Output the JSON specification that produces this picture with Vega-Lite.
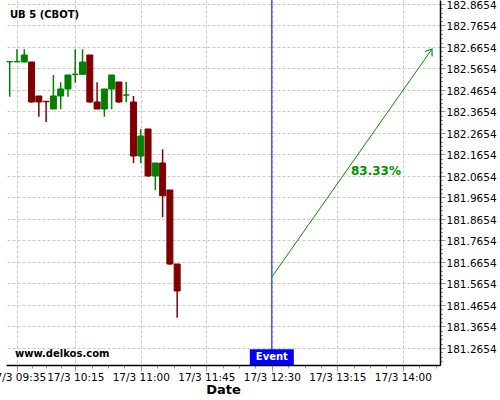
{
  "$schema": "https://vega.github.io/schema/vega-lite/v6.json",
  "width": 434,
  "height": 365,
  "autosize": {"type": "none"},
  "padding": {"left": 6, "top": 0, "right": 60, "bottom": 35},
  "background": "white",
  "config": {
    "view": {"stroke": null},
    "font": "DejaVu Sans",
    "text": {"font": "DejaVu Sans"}
  },
  "datasets": {
    "candles": [
      {"time": "2025-03-17T09:30:00", "open": 182.5970, "high": 182.5970, "low": 182.4342, "close": 182.5970},
      {"time": "2025-03-17T09:35:00", "open": 182.5970, "high": 182.6547, "low": 182.5970, "close": 182.5970},
      {"time": "2025-03-17T09:40:00", "open": 182.5956, "high": 182.6547, "low": 182.5956, "close": 182.6282},
      {"time": "2025-03-17T09:45:00", "open": 182.5956, "high": 182.5956, "low": 182.4064, "close": 182.4096},
      {"time": "2025-03-17T09:50:00", "open": 182.4375, "high": 182.4375, "low": 182.3412, "close": 182.4096},
      {"time": "2025-03-17T09:55:00", "open": 182.4128, "high": 182.4128, "low": 182.3166, "close": 182.4110},
      {"time": "2025-03-17T10:00:00", "open": 182.3770, "high": 182.5352, "low": 182.3770, "close": 182.4375},
      {"time": "2025-03-17T10:05:00", "open": 182.4375, "high": 182.5012, "low": 182.3756, "close": 182.4701},
      {"time": "2025-03-17T10:10:00", "open": 182.4701, "high": 182.5352, "low": 182.4342, "close": 182.5352},
      {"time": "2025-03-17T10:15:00", "open": 182.5384, "high": 182.6547, "low": 182.4994, "close": 182.5384},
      {"time": "2025-03-17T10:20:00", "open": 182.5384, "high": 182.6547, "low": 182.5384, "close": 182.5956},
      {"time": "2025-03-17T10:25:00", "open": 182.6282, "high": 182.6282, "low": 182.4064, "close": 182.4096},
      {"time": "2025-03-17T10:30:00", "open": 182.4096, "high": 182.5012, "low": 182.3770, "close": 182.3770},
      {"time": "2025-03-17T10:35:00", "open": 182.3770, "high": 182.4701, "low": 182.3412, "close": 182.4701},
      {"time": "2025-03-17T10:40:00", "open": 182.4701, "high": 182.5352, "low": 182.3756, "close": 182.5352},
      {"time": "2025-03-17T10:45:00", "open": 182.5026, "high": 182.5026, "low": 182.4064, "close": 182.4096},
      {"time": "2025-03-17T10:50:00", "open": 182.4421, "high": 182.5026, "low": 182.4082, "close": 182.4421},
      {"time": "2025-03-17T10:55:00", "open": 182.4096, "high": 182.4375, "low": 182.1259, "close": 182.1584},
      {"time": "2025-03-17T11:00:00", "open": 182.1584, "high": 182.2826, "low": 182.1245, "close": 182.2514},
      {"time": "2025-03-17T11:05:00", "open": 182.2840, "high": 182.2840, "low": 182.0622, "close": 182.0654},
      {"time": "2025-03-17T11:10:00", "open": 182.0654, "high": 182.1259, "low": 182.0003, "close": 182.1259},
      {"time": "2025-03-17T11:15:00", "open": 182.1259, "high": 182.1896, "low": 181.8733, "close": 181.9738},
      {"time": "2025-03-17T11:20:00", "open": 182.0003, "high": 182.0003, "low": 181.6514, "close": 181.6561},
      {"time": "2025-03-17T11:25:00", "open": 181.6561, "high": 181.6561, "low": 181.4063, "close": 181.5305}
    ],
    "event": [
      {"time": "2025-03-17T12:30:00", "label": "Event"}
    ],
    "arrow": [
      {"time": "2025-03-17T12:30:00", "value": 181.5956, "tip": false},
      {"time": "2025-03-17T14:20:00", "value": 182.6561, "tip": true}
    ],
    "odds": [
      {"time": "2025-03-17T13:41:30", "value": 182.0887, "text": "83.33%"}
    ]
  },
  "layer": [
    {
      "data": {"name": "candles"},
      "mark": {"type": "rule", "strokeWidth": 1.5},
      "encoding": {
        "x": {
          "field": "time", "type": "temporal",
          "scale": {"domain": ["2025-03-17T09:27:27", "2025-03-17T14:25:30"], "nice": false, "padding": 0},
          "axis": {
            "title": "Date",
            "titleFont": "DejaVu Sans", "titleFontSize": 13, "titleFontWeight": "bold", "titleColor": "black", "titlePadding": 1,
            "tickCount": 1000,
            "values": [
              {"year": 2025, "month": 3, "date": 17, "hours": 9, "minutes": 35},
              {"year": 2025, "month": 3, "date": 17, "hours": 9, "minutes": 45},
              {"year": 2025, "month": 3, "date": 17, "hours": 9, "minutes": 55},
              {"year": 2025, "month": 3, "date": 17, "hours": 10, "minutes": 5},
              {"year": 2025, "month": 3, "date": 17, "hours": 10, "minutes": 15},
              {"year": 2025, "month": 3, "date": 17, "hours": 10, "minutes": 26, "seconds": 15},
              {"year": 2025, "month": 3, "date": 17, "hours": 10, "minutes": 37, "seconds": 30},
              {"year": 2025, "month": 3, "date": 17, "hours": 10, "minutes": 48, "seconds": 45},
              {"year": 2025, "month": 3, "date": 17, "hours": 11, "minutes": 0},
              {"year": 2025, "month": 3, "date": 17, "hours": 11, "minutes": 11, "seconds": 15},
              {"year": 2025, "month": 3, "date": 17, "hours": 11, "minutes": 22, "seconds": 30},
              {"year": 2025, "month": 3, "date": 17, "hours": 11, "minutes": 33, "seconds": 45},
              {"year": 2025, "month": 3, "date": 17, "hours": 11, "minutes": 45},
              {"year": 2025, "month": 3, "date": 17, "hours": 11, "minutes": 56, "seconds": 15},
              {"year": 2025, "month": 3, "date": 17, "hours": 12, "minutes": 7, "seconds": 30},
              {"year": 2025, "month": 3, "date": 17, "hours": 12, "minutes": 18, "seconds": 45},
              {"year": 2025, "month": 3, "date": 17, "hours": 12, "minutes": 30},
              {"year": 2025, "month": 3, "date": 17, "hours": 12, "minutes": 41, "seconds": 15},
              {"year": 2025, "month": 3, "date": 17, "hours": 12, "minutes": 52, "seconds": 30},
              {"year": 2025, "month": 3, "date": 17, "hours": 13, "minutes": 3, "seconds": 45},
              {"year": 2025, "month": 3, "date": 17, "hours": 13, "minutes": 15},
              {"year": 2025, "month": 3, "date": 17, "hours": 13, "minutes": 26, "seconds": 15},
              {"year": 2025, "month": 3, "date": 17, "hours": 13, "minutes": 37, "seconds": 30},
              {"year": 2025, "month": 3, "date": 17, "hours": 13, "minutes": 48, "seconds": 45},
              {"year": 2025, "month": 3, "date": 17, "hours": 14, "minutes": 0},
              {"year": 2025, "month": 3, "date": 17, "hours": 14, "minutes": 11, "seconds": 15},
              {"year": 2025, "month": 3, "date": 17, "hours": 14, "minutes": 22, "seconds": 30}
            ],
            "labelExpr": "indexof(['09:35:00','10:15:00','11:00:00','11:45:00','12:30:00','13:15:00','14:00:00'], timeFormat(datum.value, '%H:%M:%S')) >= 0 ? timeFormat(datum.value, '%-d/%-m %H:%M') : ''",
            "labelFont": "DejaVu Sans", "labelFontSize": 10.5, "labelColor": "black",
            "labelFlush": false, "labelBound": false, "labelOverlap": false, "labelPadding": 1,
            "tickSize": {"condition": {"test": "indexof(['09:35:00','10:15:00','11:00:00','11:45:00','12:30:00','13:15:00','14:00:00'], timeFormat(datum.value, '%H:%M:%S')) >= 0", "value": 6}, "value": 3},
            "tickColor": "#999999",
            "domainColor": "black", "domainWidth": 1.5,
            "grid": true,
            "gridColor": "#c8c8c8", "gridDash": [3, 2], "gridWidth": 1,
            "gridOpacity": {"condition": {"test": "indexof(['09:35:00','10:15:00','11:00:00','11:45:00','12:30:00','13:15:00','14:00:00'], timeFormat(datum.value, '%H:%M:%S')) >= 0", "value": 1}, "value": 0}
          }
        },
        "y": {
          "field": "low", "type": "quantitative",
          "scale": {"domain": [181.1863, 182.884], "nice": false, "zero": false, "padding": 0},
          "axis": {
            "orient": "right",
            "title": null,
            "tickCount": 1000,
            "values": [181.2054, 181.2254, 181.2454, 181.2654, 181.2854, 181.3054, 181.3254, 181.3454, 181.3654, 181.3854, 181.4054, 181.4254, 181.4454, 181.4654, 181.4854, 181.5054, 181.5254, 181.5454, 181.5654, 181.5854, 181.6054, 181.6254, 181.6454, 181.6654, 181.6854, 181.7054, 181.7254, 181.7454, 181.7654, 181.7854, 181.8054, 181.8254, 181.8454, 181.8654, 181.8854, 181.9054, 181.9254, 181.9454, 181.9654, 181.9854, 182.0054, 182.0254, 182.0454, 182.0654, 182.0854, 182.1054, 182.1254, 182.1454, 182.1654, 182.1854, 182.2054, 182.2254, 182.2454, 182.2654, 182.2854, 182.3054, 182.3254, 182.3454, 182.3654, 182.3854, 182.4054, 182.4254, 182.4454, 182.4654, 182.4854, 182.5054, 182.5254, 182.5454, 182.5654, 182.5854, 182.6054, 182.6254, 182.6454, 182.6654, 182.6854, 182.7054, 182.7254, 182.7454, 182.7654, 182.7854, 182.8054, 182.8254, 182.8454, 182.8654],
            "labelExpr": "abs((datum.value - 181.2654) / 0.1 - round((datum.value - 181.2654) / 0.1)) < 0.05 ? format(datum.value, '.4f') : ''",
            "labelFont": "DejaVu Sans", "labelFontSize": 10.5, "labelColor": "black",
            "labelOverlap": false, "labelFlush": false, "labelBound": false, "labelPadding": 1, "labelOffset": 1.5,
            "tickSize": {"condition": {"test": "abs((datum.value - 181.2654) / 0.1 - round((datum.value - 181.2654) / 0.1)) < 0.05", "value": 5}, "value": 2.5},
            "tickColor": "#999999",
            "domainColor": "black", "domainWidth": 1.5,
            "grid": true,
            "gridColor": "#c8c8c8", "gridDash": [3, 2], "gridWidth": 1,
            "gridOpacity": {"condition": {"test": "abs((datum.value - 181.2654) / 0.1 - round((datum.value - 181.2654) / 0.1)) < 0.05", "value": 1}, "value": 0}
          }
        },
        "y2": {"field": "high"},
        "color": {"condition": {"test": "datum.close < datum.open", "value": "#800000"}, "value": "#008000"}
      }
    },
    {
      "data": {"name": "candles"},
      "mark": {"type": "bar", "size": 6, "strokeWidth": 1},
      "encoding": {
        "x": {"field": "time", "type": "temporal"},
        "y": {"field": "open", "type": "quantitative"},
        "y2": {"field": "close"},
        "fill": {"condition": {"test": "datum.close < datum.open", "value": "#800000"}, "value": "#008000"},
        "stroke": {"condition": {"test": "datum.close < datum.open", "value": "#800000"}, "value": "#008000"}
      }
    },
    {
      "data": {"name": "event"},
      "mark": {"type": "rule", "color": "#0000ff", "strokeWidth": 1},
      "encoding": {
        "x": {"field": "time", "type": "temporal"}
      }
    },
    {
      "data": {"name": "event"},
      "mark": {"type": "bar", "size": 44, "color": "#0000ff"},
      "encoding": {
        "x": {"field": "time", "type": "temporal"},
        "y": {"datum": 181.2594, "type": "quantitative"},
        "y2": {"datum": 181.1863}
      }
    },
    {
      "data": {"name": "event"},
      "mark": {"type": "text", "color": "white", "font": "DejaVu Sans", "fontSize": 10, "fontWeight": "bold", "align": "center", "baseline": "middle"},
      "encoding": {
        "x": {"field": "time", "type": "temporal"},
        "y": {"datum": 181.2235, "type": "quantitative"},
        "text": {"field": "label"}
      }
    },
    {
      "data": {"name": "arrow"},
      "mark": {"type": "line", "color": "#009000", "strokeWidth": 1},
      "encoding": {
        "x": {"field": "time", "type": "temporal"},
        "y": {"field": "value", "type": "quantitative"}
      }
    },
    {
      "data": {"name": "arrow"},
      "transform": [{"filter": "datum.tip"}],
      "mark": {"type": "point", "shape": "M-0.5,0.7L0,0L0.5,0.7", "filled": false, "color": "#009000", "strokeWidth": 1.2, "size": 300, "angle": 35, "opacity": 1},
      "encoding": {
        "x": {"field": "time", "type": "temporal"},
        "y": {"field": "value", "type": "quantitative"}
      }
    },
    {
      "data": {"name": "odds"},
      "mark": {"type": "text", "color": "#009000", "font": "DejaVu Sans", "fontSize": 12, "fontWeight": "bold", "align": "center", "baseline": "middle"},
      "encoding": {
        "x": {"field": "time", "type": "temporal"},
        "y": {"field": "value", "type": "quantitative"},
        "text": {"field": "text"}
      }
    },
    {
      "data": {"values": [{"text": "UB 5 (CBOT)"}]},
      "mark": {"type": "text", "color": "black", "font": "DejaVu Sans", "fontSize": 10, "fontWeight": "bold", "align": "left", "baseline": "middle"},
      "encoding": {
        "x": {"datum": {"year": 2025, "month": 3, "date": 17, "hours": 9, "minutes": 30, "seconds": 12}, "type": "temporal"},
        "y": {"datum": 182.8142, "type": "quantitative"},
        "text": {"field": "text"}
      }
    },
    {
      "data": {"values": [{"text": "www.delkos.com"}]},
      "mark": {"type": "text", "color": "black", "font": "DejaVu Sans", "fontSize": 10, "fontWeight": "bold", "align": "left", "baseline": "middle"},
      "encoding": {
        "x": {"datum": {"year": 2025, "month": 3, "date": 17, "hours": 9, "minutes": 33, "seconds": 36}, "type": "temporal"},
        "y": {"datum": 181.2375, "type": "quantitative"},
        "text": {"field": "text"}
      }
    }
  ]
}
